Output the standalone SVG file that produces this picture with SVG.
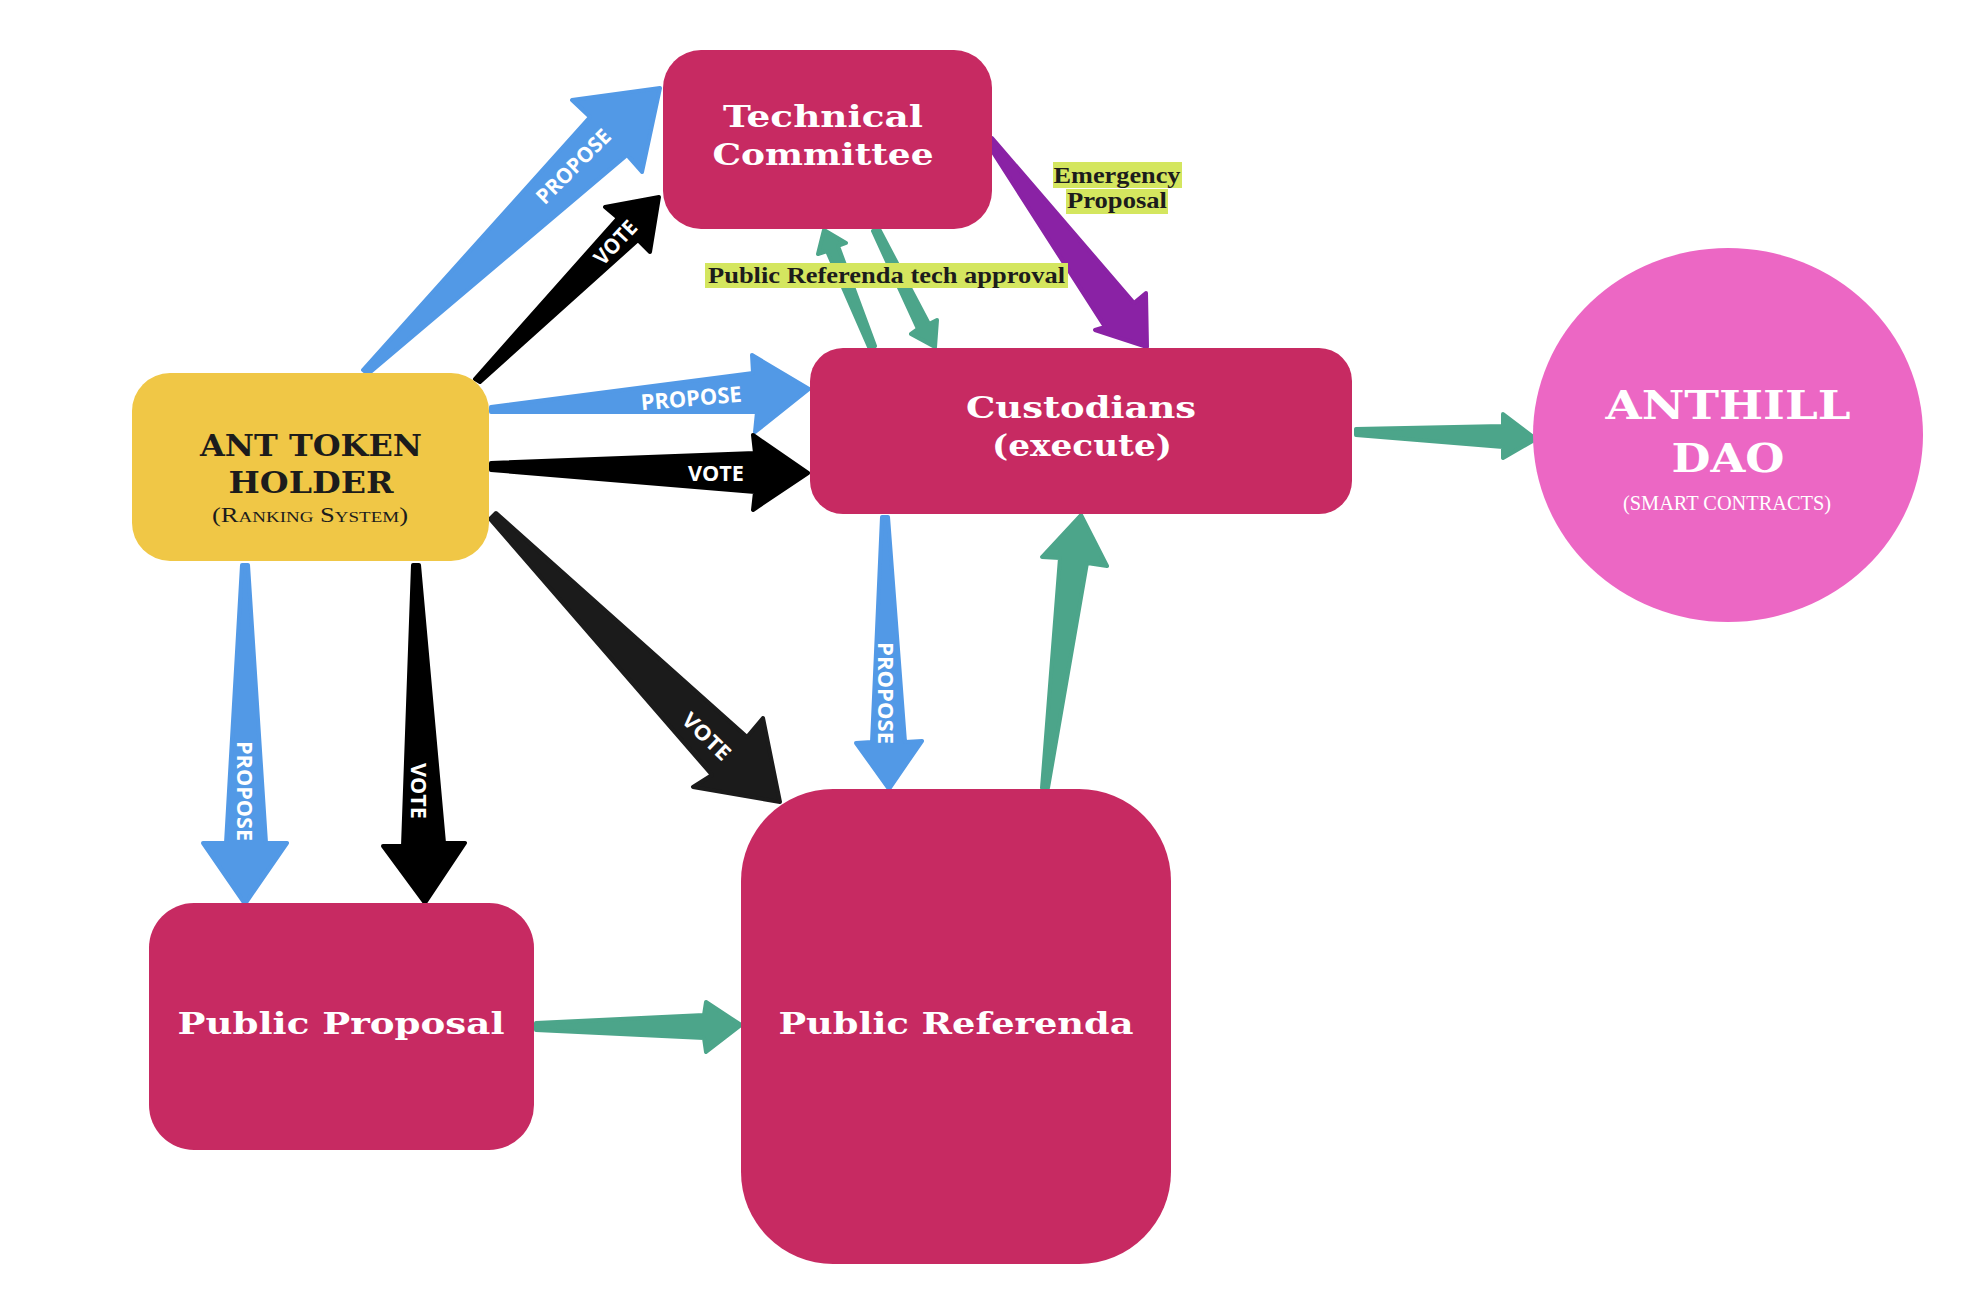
<svg xmlns="http://www.w3.org/2000/svg" width="1982" height="1292" viewBox="0 0 1982 1292">
<style>
.box{fill:#C72A62}
.title{font-family:"DejaVu Serif","Liberation Serif",serif;font-weight:bold;fill:#ffffff;text-anchor:middle}
.dark{font-family:"DejaVu Serif","Liberation Serif",serif;font-weight:bold;fill:#1c1c1c;text-anchor:middle}
.lbl{font-family:"Open Sans","Liberation Sans",sans-serif;font-weight:bold;fill:#ffffff;text-anchor:middle;dominant-baseline:central;font-size:21px}
.tag{font-family:"Liberation Serif","DejaVu Serif",serif;font-weight:bold;fill:#1c1c1c;font-size:24px}
.tagbg{fill:#D4E65F}
.a{stroke-width:4;stroke-linejoin:round}
.blue{fill:#5299E6;stroke:#5299E6}
.black{fill:#000000;stroke:#000000}
.black2{fill:#1b1b1b;stroke:#1b1b1b}
.green{fill:#4CA58A;stroke:#4CA58A}
.purple{fill:#8A22A5;stroke:#8A22A5}
</style>
<rect width="1982" height="1292" fill="#ffffff"/>
<g id="connectors">
  <polygon class="a blue" points="363,370 590,117 572,100 660,88 642,172 627,155 368,374"/>
  <polygon class="a black" points="475,379 618,218 605,207 659,197 650,252 638,240 480,382"/>
  <polygon class="a blue" points="491,407 753,373 752,355 809,389 755,432 757,412 491,412"/>
  <polygon class="a black" points="491,463 755,453 753,435 808,473 753,510 755,492 491,470"/>
  <polygon class="a black2" points="490,519 712,775 693,787 780,802 763,718 747,737 496,513"/>
  <polygon class="a blue" points="242,565 226,843 203,843 245,904 287,843 266,843 248,565"/>
  <polygon class="a black" points="413,565 403,846 383,846 425,903 465,843 444,843 419,565"/>
  <polygon class="a blue" points="882,517 872,742 856,743 889,789 922,741 905,742 888,517"/>
  <polygon class="a green" points="1042,788 1060,558 1042,557 1081,515 1107,566 1087,563 1048,788"/>
  <polygon class="a green" points="536,1023 704,1015 706,1002 741,1025 706,1052 704,1038 536,1030"/>
  <polygon class="a green" points="873,231 918,329 911,334 935,347 937,320 929,324 879,229"/>
  <polygon class="a green" points="869,347 827,251 818,254 824,230 846,243 838,246 875,346"/>
  <polygon class="a purple" points="987,143 1105,327 1095,330 1147,347 1146,293 1134,303 992,138"/>
  <polygon class="a green" points="1356,429 1503,426 1503,414 1536,439 1503,458 1503,447 1356,435"/>
  <text class="lbl" transform="translate(573,166) rotate(-45)" textLength="96" lengthAdjust="spacingAndGlyphs">PROPOSE</text>
  <text class="lbl" transform="translate(615,242) rotate(-47)" textLength="52" lengthAdjust="spacingAndGlyphs">VOTE</text>
  <text class="lbl" style="font-size:22px" transform="translate(691,397) rotate(-5)" textLength="101" lengthAdjust="spacingAndGlyphs">PROPOSE</text>
  <text class="lbl" style="font-size:22px" transform="translate(716,472)" textLength="56" lengthAdjust="spacingAndGlyphs">VOTE</text>
  <text class="lbl" transform="translate(245,791) rotate(90)" textLength="100" lengthAdjust="spacingAndGlyphs">PROPOSE</text>
  <text class="lbl" transform="translate(419,791) rotate(90)" textLength="56" lengthAdjust="spacingAndGlyphs">VOTE</text>
  <text class="lbl" transform="translate(886,693) rotate(90)" textLength="102" lengthAdjust="spacingAndGlyphs">PROPOSE</text>
  <text class="lbl" transform="translate(707,736) rotate(44)" textLength="58" lengthAdjust="spacingAndGlyphs">VOTE</text>
  <rect class="tagbg" x="705" y="263" width="363" height="25"/>
  <text class="tag" x="708" y="283" textLength="357" lengthAdjust="spacingAndGlyphs">Public Referenda tech approval</text>
  <rect class="tagbg" x="1053" y="162" width="129" height="26"/>
  <text class="tag" x="1117" y="183" text-anchor="middle" textLength="127" lengthAdjust="spacingAndGlyphs">Emergency</text>
  <rect class="tagbg" x="1066" y="189" width="102" height="25"/>
  <text class="tag" x="1117" y="208" text-anchor="middle" textLength="100" lengthAdjust="spacingAndGlyphs">Proposal</text>
</g>
<g id="technical-committee">
  <rect class="box" x="663" y="50" width="329" height="179" rx="38"/>
  <text class="title" x="823" y="127" font-size="30" textLength="200" lengthAdjust="spacingAndGlyphs">Technical</text>
  <text class="title" x="823" y="165" font-size="30" textLength="221" lengthAdjust="spacingAndGlyphs">Committee</text>
</g>
<g id="ant-token-holder">
  <rect x="132" y="373" width="357" height="188" rx="38" fill="#F0C746"/>
  <text class="dark" x="311" y="456" font-size="29" textLength="222" lengthAdjust="spacingAndGlyphs">ANT TOKEN</text>
  <text class="dark" x="311" y="493" font-size="29" textLength="165" lengthAdjust="spacingAndGlyphs">HOLDER</text>
  <text x="310" y="522" font-family="Liberation Serif, DejaVu Serif, serif" font-size="21" font-variant="small-caps" fill="#1c1c1c" text-anchor="middle" textLength="196" lengthAdjust="spacingAndGlyphs">(Ranking System)</text>
</g>
<g id="custodians">
  <rect class="box" x="810" y="348" width="542" height="166" rx="33"/>
  <text class="title" x="1081" y="418" font-size="29" textLength="230" lengthAdjust="spacingAndGlyphs">Custodians</text>
  <text class="title" x="1082" y="456" font-size="29" textLength="180" lengthAdjust="spacingAndGlyphs">(execute)</text>
</g>
<g id="anthill-dao">
  <ellipse cx="1728" cy="435" rx="195" ry="187" fill="#EC67C4"/>
  <text class="title" x="1728" y="419" font-size="40" textLength="245" lengthAdjust="spacingAndGlyphs">ANTHILL</text>
  <text class="title" x="1728" y="472" font-size="40" textLength="113" lengthAdjust="spacingAndGlyphs">DAO</text>
  <text x="1727" y="510" font-family="Liberation Serif, DejaVu Serif, serif" font-size="21" fill="#ffffff" text-anchor="middle" textLength="208" lengthAdjust="spacingAndGlyphs">(SMART CONTRACTS)</text>
</g>
<g id="public-proposal">
  <rect class="box" x="149" y="903" width="385" height="247" rx="45"/>
  <text class="title" x="341" y="1034" font-size="29" textLength="327" lengthAdjust="spacingAndGlyphs">Public Proposal</text>
</g>
<g id="public-referenda">
  <rect class="box" x="741" y="789" width="430" height="475" rx="92"/>
  <text class="title" x="956" y="1034" font-size="29" textLength="355" lengthAdjust="spacingAndGlyphs">Public Referenda</text>
</g>
</svg>
